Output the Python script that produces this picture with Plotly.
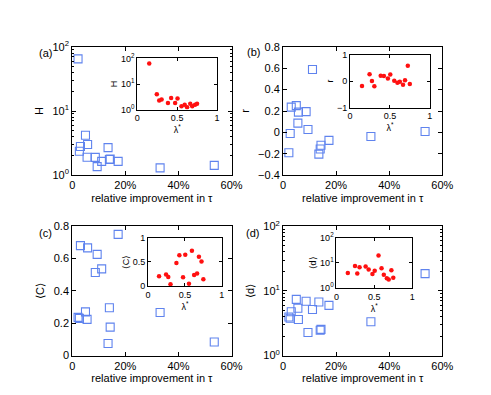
import plotly.graph_objects as go

# relative improvement in tau (%) and the four network measures
improvement = [2.2, 2.7, 3.1, 5.0, 5.6, 5.8, 8.7, 9.4, 11.1, 13.5, 14.0, 14.3, 17.3, 33.1, 53.5]
H = [65, 2.36, 2.8, 4.2, 1.9, 3.0, 1.89, 1.36, 1.64, 2.69, 1.75, 1.78, 1.64, 1.3, 1.42]
r = [-0.19, -0.01, 0.236, 0.25, 0.087, 0.19, 0.194, 0.027, 0.588, -0.203, -0.155, -0.12, -0.075, -0.039, 0.009]
C = [0.236, 0.23, 0.68, 0.27, 0.224, 0.666, 0.514, 0.626, 0.536, 0.074, 0.296, 0.176, 0.75, 0.266, 0.084]
d = [3.94, 3.77, 4.76, 7.39, 5.39, 3.6, 6.9, 2.27, 5.15, 6.74, 2.46, 2.54, 5.97, 3.33, 18.5]

# insets: same measures against lambda*
lam = [0.15, 0.245, 0.275, 0.305, 0.385, 0.425, 0.475, 0.505, 0.555, 0.595, 0.625, 0.665, 0.69, 0.725, 0.75]
H_lam = [64, 4.0, 2.26, 2.47, 1.79, 2.86, 1.79, 2.69, 1.34, 1.55, 1.23, 1.69, 1.34, 1.55, 1.69]
r_lam = [-0.18, 0.26, 0.0, -0.19, 0.2, 0.19, 0.095, 0.25, 0.01, -0.06, -0.02, -0.14, 0.036, 0.58, -0.107]
C_lam = [0.205, 0.24, 0.19, 0.04, 0.48, 0.64, 0.185, 0.65, 0.048, 0.73, 0.23, 0.26, 0.61, 0.51, 0.144]
d_lam = [3.94, 7.47, 3.82, 6.65, 7.25, 5.42, 3.6, 4.83, 19.6, 6.1, 3.4, 2.47, 2.2, 5.1, 2.54]

pct_vals = [0, 20, 40, 60]
pct_text = ["0", "20%", "40%", "60%"]
log_vals = [1, 10, 100]
log_text = ["10<sup>0</sup>", "10<sup>1</sup>", "10<sup>2</sup>"]
log_minor = [2, 3, 4, 5, 6, 7, 8, 9, 20, 30, 40, 50, 60, 70, 80, 90]

W, Hh = 491, 395
FONT = "Liberation Sans, Arial, sans-serif"
blue = "#5f83ee"
red = "#ff1010"


def xd(a, b):
    return [a / W, b / W]


def yd(top, bottom):
    return [1 - bottom / Hh, 1 - top / Hh]


fig = go.Figure()

mains = [(H, "H"), (r, "r"), (C, "⟨C⟩"), (d, "⟨d⟩")]
insets = [(H_lam, "H"), (r_lam, "r"), (C_lam, "⟨C⟩"), (d_lam, "⟨d⟩")]

for i, (vals, name) in enumerate(mains):
    n = "" if i == 0 else str(i + 1)
    fig.add_trace(go.Scatter(x=improvement, y=vals, mode="markers", xaxis="x" + n, yaxis="y" + n,
                             marker=dict(symbol="square-open", size=8, color=blue, line=dict(width=1.1)),
                             showlegend=False))
for i, (vals, name) in enumerate(insets):
    n = str(i + 5)
    fig.add_trace(go.Scatter(x=lam, y=vals, mode="markers", xaxis="x" + n, yaxis="y" + n,
                             marker=dict(symbol="circle", size=4.5, color=red),
                             showlegend=False))

base = dict(showline=True, linecolor="black", linewidth=1, mirror="ticks", ticks="inside",
            tickcolor="black", ticklen=4, showgrid=False, zeroline=False,
            tickfont=dict(size=11, color="black"))
small = dict(base, ticklen=3, tickfont=dict(size=9, color="black"))

main_x = [xd(63, 227), xd(280, 444), xd(63, 227), xd(280, 444)]
main_y = [yd(32, 165), yd(32, 165), yd(218, 352), yd(218, 352)]
ins_x = [xd(130, 212), xd(349, 431), xd(141, 217), xd(335, 413)]
ins_y = [yd(44, 97), yd(40, 95), yd(230, 280), yd(230, 282)]

layout = {}
for i in range(4):
    n = "" if i == 0 else str(i + 1)
    layout["xaxis" + n] = dict(base, domain=main_x[i], anchor="y" + n, range=[0, 60],
                               tickmode="array", tickvals=pct_vals, ticktext=pct_text,
                               title=dict(text="relative improvement in τ", standoff=3,
                                          font=dict(size=11, color="black")))
    ya = dict(base, domain=main_y[i], anchor="x" + n,
              title=dict(text=mains[i][1], standoff=6, font=dict(size=11, color="black")))
    if i in (0, 3):
        ya.update(type="log", range=[0, 2], tickmode="array", tickvals=log_vals, ticktext=log_text,
                  minor=dict(ticks="inside", ticklen=2, tickcolor="black", tickvals=log_minor))
    elif i == 1:
        ya.update(range=[-0.4, 0.8], dtick=0.2, tick0=0)
    else:
        ya.update(range=[0, 0.8], dtick=0.2, tick0=0)
    layout["yaxis" + n] = ya

for i in range(4):
    n = str(i + 5)
    layout["xaxis" + n] = dict(small, domain=ins_x[i], anchor="y" + n, range=[0, 1],
                               tickvals=[0, 0.5, 1], ticktext=["0", "0.5", "1"],
                               title=dict(text="λ<sup>*</sup>", standoff=0,
                                          font=dict(size=9, color="black")))
    ya = dict(small, domain=ins_y[i], anchor="x" + n,
              title=dict(text=insets[i][1], standoff=1, font=dict(size=9, color="black")))
    if i in (0, 3):
        ya.update(type="log", range=[0, 2], tickmode="array", tickvals=log_vals, ticktext=log_text)
    elif i == 1:
        ya.update(range=[-1, 1], tickvals=[-1, 0, 1], ticktext=["−1", "0", "1"])
    else:
        ya.update(range=[0, 1], tickvals=[0, 0.5, 1], ticktext=["0", "0.5", "1"])
    layout["yaxis" + n] = ya

labels = [("(a)", 35, 38), ("(b)", 250, 37), ("(c)", 35, 225), ("(d)", 249, 225)]
annotations = [dict(text=t, x=px / W, y=1 - py / Hh, xref="paper", yref="paper", showarrow=False,
                    font=dict(size=11, color="black"), xanchor="center", yanchor="middle")
               for t, px, py in labels]

fig.update_layout(width=W, height=Hh, autosize=False, margin=dict(l=0, r=0, t=0, b=0),
                  paper_bgcolor="white", plot_bgcolor="white",
                  font=dict(family=FONT, size=11, color="black"),
                  annotations=annotations, **layout)

fig.write_html("out.html")
